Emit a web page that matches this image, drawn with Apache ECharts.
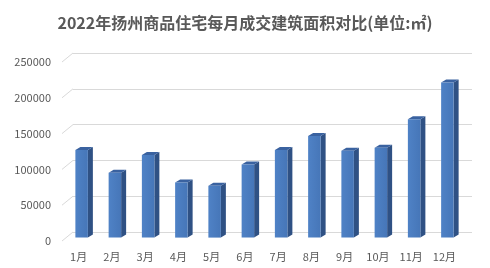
<!DOCTYPE html>
<html>
<head>
<meta charset="utf-8">
<script src="https://cdn.jsdelivr.net/npm/echarts@6/dist/echarts.min.js"></script>
<style>html,body{margin:0;padding:0;background:#fff;}#c{width:490px;height:268px;}</style>
</head>
<body>
<div id="c"></div>
<script>
var categories = ['1月','2月','3月','4月','5月','6月','7月','8月','9月','10月','11月','12月'];
var areaValues = [122200, 90400, 115200, 77000, 72300, 102200, 122200, 141800, 121300, 125500, 165200, 216500];
var yTicks = [0, 50000, 100000, 150000, 200000, 250000];
var titleText = '2022年扬州商品住宅每月成交建筑面积对比(单位:㎡)';

var FONT = '"Noto Sans CJK SC", "Microsoft YaHei", sans-serif';
var floorDX = -11, floorDY = 9;
var barDX = -8, barDY = 5.6;
var depthX = 5, depthY = -3;
var barW = 12.5;

var chart = echarts.init(document.getElementById('c'), null, {renderer: 'canvas'});
chart.setOption({
  backgroundColor: '#fff',
  animation: false,
  title: {
    text: titleText, left: 'center', top: 10,
    textStyle: {fontFamily: FONT, fontSize: 16, fontWeight: 'bold', color: '#595959'}
  },
  grid: [
    {left: 73, right: 18, top: 53, bottom: 36},
    {left: 62, right: 29, top: 62, bottom: 27}
  ],
  xAxis: [
    {type: 'category', data: categories, gridIndex: 0, show: false},
    {type: 'category', data: categories, gridIndex: 1,
     axisLine: {show: false}, axisTick: {show: false},
     axisLabel: {fontFamily: FONT, fontSize: 11, color: '#595959', margin: 10}}
  ],
  yAxis: [
    {type: 'value', gridIndex: 0, min: 0, max: 250000, interval: 50000,
     axisLine: {show: false}, axisTick: {show: false}, axisLabel: {show: false},
     splitLine: {lineStyle: {color: '#d9d9d9', width: 1}}},
    {type: 'value', gridIndex: 1, min: 0, max: 250000, interval: 50000,
     axisLine: {show: false}, axisTick: {show: false}, splitLine: {show: false},
     axisLabel: {fontFamily: FONT, fontSize: 11, color: '#595959', margin: 11,
                 formatter: function (v) { return String(v); }}}
  ],
  series: [
    {
      type: 'custom', xAxisIndex: 0, yAxisIndex: 0, silent: true, z: 1,
      data: yTicks.map(function (t) { return [0, t]; }),
      renderItem: function (params, api) {
        var y = api.coord([0, api.value(1)])[1];
        var x0 = params.coordSys.x;
        return {type: 'line', shape: {x1: x0, y1: y, x2: x0 + floorDX, y2: y + floorDY},
                style: {stroke: '#d9d9d9', lineWidth: 1}};
      }
    },
    {
      type: 'custom', xAxisIndex: 0, yAxisIndex: 0, silent: true, z: 2,
      data: areaValues.map(function (v, i) { return [i, v]; }),
      renderItem: function (params, api) {
        var top = api.coord([api.value(0), api.value(1)]);
        var bot = api.coord([api.value(0), 0]);
        var cx = top[0] + barDX;
        var x1 = cx - barW / 2, x2 = cx + barW / 2;
        var yt = top[1] + barDY, yb = bot[1] + barDY;
        return {
          type: 'group',
          children: [
            {type: 'polygon', shape: {points: [[x2, yt], [x2 + depthX, yt + depthY], [x2 + depthX, yb + depthY], [x2, yb]]},
             style: {fill: '#2f5184'}},
            {type: 'polygon', shape: {points: [[x1, yt], [x1 + depthX, yt + depthY], [x2 + depthX, yt + depthY], [x2, yt]]},
             style: {fill: '#3a62a0'}},
            {type: 'rect', shape: {x: x1, y: yt, width: barW, height: yb - yt},
             style: {fill: new echarts.graphic.LinearGradient(0, 0, 1, 0, [
               {offset: 0, color: '#4f82c6'}, {offset: 1, color: '#4676b8'}])}}
          ]
        };
      }
    }
  ]
});
</script>
</body>
</html>
